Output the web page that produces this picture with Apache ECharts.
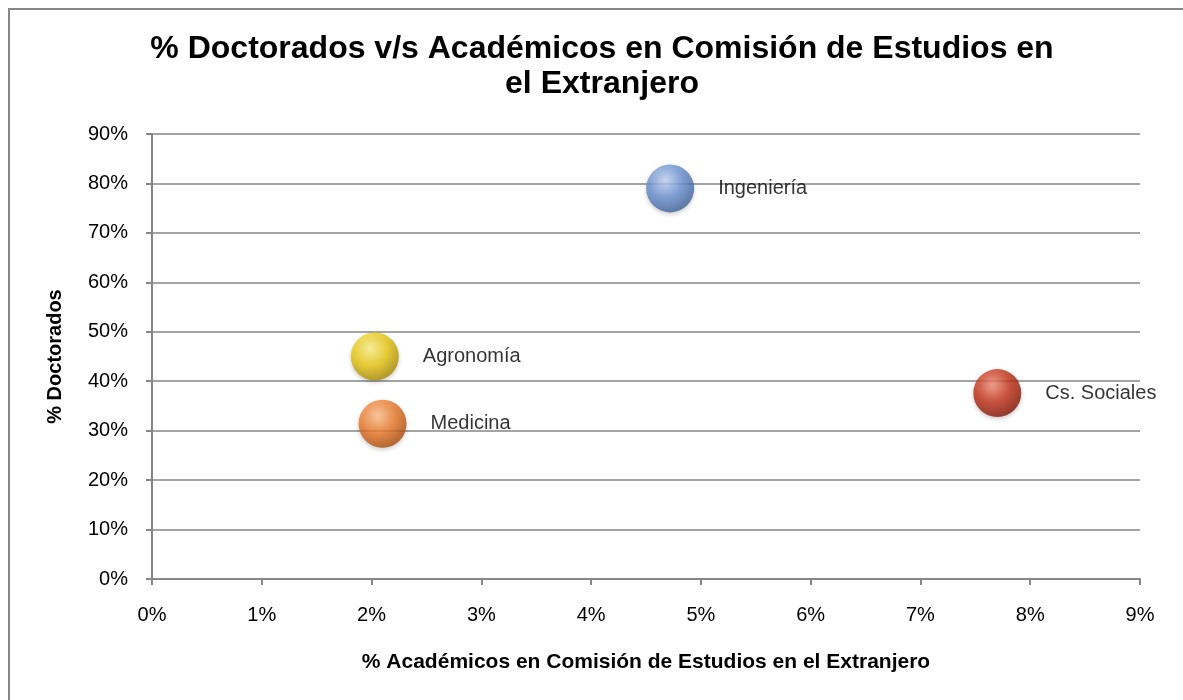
<!DOCTYPE html>
<html>
<head>
<meta charset="utf-8">
<script src="https://cdn.jsdelivr.net/npm/echarts@6/dist/echarts.min.js"></script>
<style>
  html, body { margin: 0; padding: 0; background: #fff; }
  #chart { width: 1183px; height: 700px; }
</style>
</head>
<body>
<div id="chart"></div>
<script>
// data
const categories = ['Ingeniería', 'Agronomía', 'Medicina', 'Cs. Sociales'];
const academicosPct = [4.72, 2.03, 2.10, 7.70];
const doctoradosPct = [79, 45, 31.4, 37.6];
const bubbleColors = [
  ['#c4d8f6', '#6b92d4', '#3b5d93'],
  ['#fff58a', '#ecca12', '#a38300'],
  ['#ffc390', '#ef7b2a', '#a5460a'],
  ['#f3917a', '#c63218', '#7a1206']
];

const chart = echarts.init(document.getElementById('chart'));
const font = 'Arial, "Liberation Sans", sans-serif';

const seriesData = categories.map((name, i) => ({
  name: name,
  value: [academicosPct[i], doctoradosPct[i]],
  itemStyle: {
    color: {
      type: 'radial', x: 0.4, y: 0.33, r: 0.72,
      colorStops: [
        { offset: 0, color: bubbleColors[i][0] },
        { offset: 0.5, color: bubbleColors[i][1] },
        { offset: 1, color: bubbleColors[i][2] }
      ]
    },
    shadowColor: 'rgba(0,0,0,0.25)',
    shadowBlur: 4,
    shadowOffsetY: 2
  }
}));

chart.setOption({
  animation: false,
  backgroundColor: '#fff',
  title: {
    text: '% Doctorados v/s Académicos en Comisión de Estudios en\nel Extranjero',
    left: 597,
    top: 27,
    textAlign: 'center',
    textStyle: { fontFamily: font, fontSize: 32, fontWeight: 'bold', color: '#000', lineHeight: 35 }
  },
  graphic: [{
    type: 'rect',
    shape: { x: 9, y: 9, width: 1400, height: 900 },
    style: { fill: 'none', stroke: '#868686', lineWidth: 2 },
    silent: true
  }],
  grid: { left: 152, right: 43, top: 134, bottom: 121 },
  xAxis: {
    type: 'value',
    min: 0, max: 9, interval: 1,
    name: '% Académicos en Comisión de Estudios en el Extranjero',
    nameLocation: 'middle',
    nameGap: 73,
    nameTextStyle: { fontFamily: font, fontSize: 21, fontWeight: 'bold', color: '#000' },
    axisLine: { show: true, lineStyle: { color: '#868686', width: 2 } },
    axisTick: { show: true, length: 6, lineStyle: { color: '#868686', width: 2 } },
    axisLabel: { formatter: '{value}%', fontFamily: font, fontSize: 20, color: '#000', margin: 26 },
    splitLine: { show: false }
  },
  yAxis: {
    type: 'value',
    min: 0, max: 90, interval: 10,
    name: '% Doctorados',
    nameLocation: 'middle',
    nameGap: 87,
    nameRotate: 90,
    nameTextStyle: { fontFamily: font, fontSize: 20, fontWeight: 'bold', color: '#000' },
    axisLine: { show: true, lineStyle: { color: '#868686', width: 2 } },
    axisTick: { show: true, length: 6, lineStyle: { color: '#868686', width: 2 } },
    axisLabel: { formatter: '{value}%', fontFamily: font, fontSize: 20, color: '#000', margin: 24 },
    splitLine: { show: true, lineStyle: { color: '#868686', width: 1.5 } }
  },
  series: [{
    type: 'scatter',
    symbolSize: 48,
    data: seriesData,
    label: {
      show: true,
      position: 'right',
      distance: 24,
      formatter: p => p.name,
      fontFamily: font,
      fontSize: 20,
      color: '#000'
    }
  }]
});
</script>
</body>
</html>
